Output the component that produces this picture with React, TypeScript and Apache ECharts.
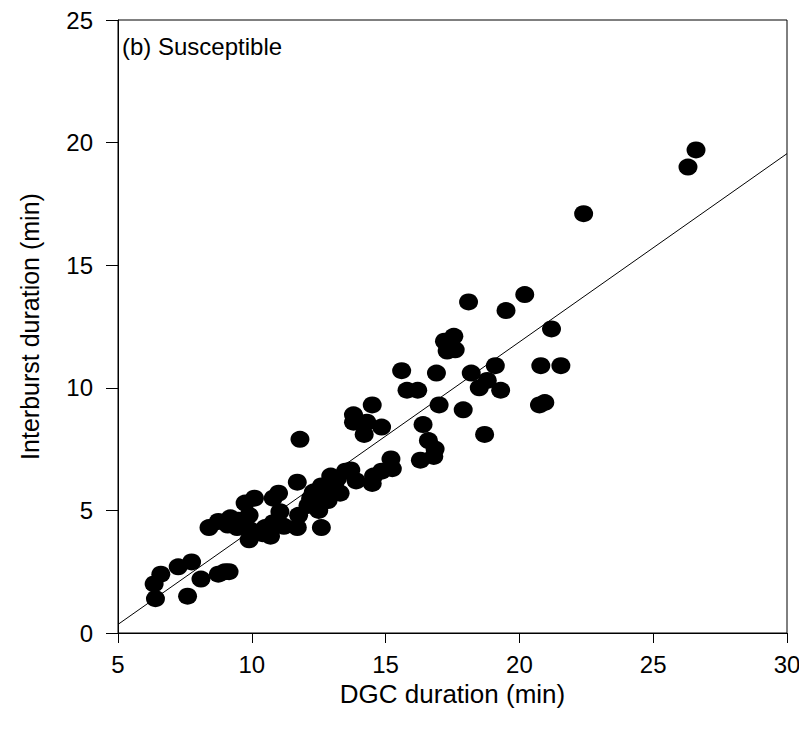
import React, { useEffect, useRef } from "react";
import * as echarts from "echarts";

// DGC duration (min) for each observation
const dgcDuration: number[] = [
  6.4, 6.35, 6.6, 7.25, 7.6, 7.75, 8.1, 8.75, 9.0, 9.15,
  8.4, 8.75, 9.2, 9.1, 9.45, 9.7, 9.75, 10.1, 9.9, 9.95,
  9.9, 10.4, 10.7, 10.8, 11.05, 10.8, 11.0, 11.2, 11.7, 11.75,
  11.7, 11.8, 12.3, 12.4, 12.5, 12.6, 12.7, 12.9, 12.95, 13.1,
  13.3, 12.85, 13.5, 13.7, 13.9, 13.8, 13.8, 14.2, 14.3, 14.5,
  14.5, 14.55, 14.85, 14.85, 15.25, 15.2, 15.6, 15.8, 16.2, 16.3,
  16.4, 16.6, 16.85, 16.8, 16.9, 17.0, 17.2, 17.3, 17.55, 17.6,
  17.9, 18.1, 18.2, 18.5, 18.7, 18.8, 19.1, 19.3, 19.5, 20.2,
  20.8, 20.75, 20.95, 21.2, 21.55, 22.4, 26.3, 26.6,
  12.1, 12.6, 13.2, 10.5, 9.5, 12.2,
];

// Interburst duration (min) for each observation
const interburstDuration: number[] = [
  1.4, 2.0, 2.4, 2.7, 1.5, 2.9, 2.2, 2.4, 2.5, 2.5,
  4.3, 4.55, 4.7, 4.4, 4.3, 4.5, 5.3, 5.5, 3.8, 4.2,
  4.8, 4.05, 3.95, 4.5, 4.95, 5.5, 5.7, 4.35, 4.3, 4.8,
  6.15, 7.9, 5.75, 5.4, 5.0, 4.3, 5.6, 5.9, 6.4, 6.1,
  5.7, 5.4, 6.6, 6.65, 6.2, 8.9, 8.6, 8.1, 8.6, 9.3,
  6.1, 6.4, 8.4, 6.6, 6.7, 7.1, 10.7, 9.9, 9.9, 7.05,
  8.5, 7.85, 7.5, 7.2, 10.6, 9.3, 11.9, 11.5, 12.1, 11.55,
  9.1, 13.5, 10.6, 10.0, 8.1, 10.3, 10.9, 9.9, 13.15, 13.8,
  10.9, 9.3, 9.4, 12.4, 10.9, 17.1, 19.0, 19.7,
  5.2, 6.0, 6.3, 4.3, 4.6, 5.5,
];

// Fitted regression line endpoints
const fitX: number[] = [5, 30];
const fitY: number[] = [0.35, 19.55];

const xTicks = { min: 5, max: 30, interval: 5 };
const yTicks = { min: 0, max: 25, interval: 5 };

const FONT = "'Liberation Sans', Arial, sans-serif";

export default function App() {
  const ref = useRef<HTMLDivElement>(null);

  useEffect(() => {
    if (!ref.current) return;
    const chart = echarts.init(ref.current, undefined, { renderer: "svg" });
    const points = dgcDuration.map((x, i) => [x, interburstDuration[i]]);
    const fit = fitX.map((x, i) => [x, fitY[i]]);
    chart.setOption({
      animation: false,
      backgroundColor: "#fff",
      textStyle: { fontFamily: FONT },
      grid: {
        left: 110,
        right: 12,
        top: 12,
        bottom: 99,
        show: true,
        borderColor: "#000",
        borderWidth: 1,
        backgroundColor: "transparent",
        containLabel: false,
        outerBoundsMode: "none",
      },
      graphic: [
        {
          type: "text",
          left: 114,
          top: 26,
          style: {
            text: "(b) Susceptible",
            fontSize: 24,
            fontFamily: FONT,
            fill: "#000",
          },
        },
      ],
      xAxis: {
        type: "value",
        min: xTicks.min,
        max: xTicks.max,
        interval: xTicks.interval,
        name: "DGC duration (min)",
        nameLocation: "middle",
        nameGap: 46,
        nameTextStyle: { fontSize: 26, color: "#000", fontFamily: FONT },
        axisLine: { show: true, onZero: false, lineStyle: { color: "#000", width: 1 } },
        axisTick: { show: true, inside: false, length: 10, lineStyle: { color: "#000" } },
        axisLabel: { fontSize: 24, color: "#000", margin: 19, fontFamily: FONT },
        splitLine: { show: false },
      },
      yAxis: {
        type: "value",
        min: yTicks.min,
        max: yTicks.max,
        interval: yTicks.interval,
        name: "Interburst duration (min)",
        nameLocation: "middle",
        nameGap: 76,
        nameRotate: 90,
        nameTextStyle: { fontSize: 25, color: "#000", fontFamily: FONT },
        axisLine: { show: true, onZero: false, lineStyle: { color: "#000", width: 1 } },
        axisTick: { show: true, inside: false, length: 12, lineStyle: { color: "#000" } },
        axisLabel: { fontSize: 24, color: "#000", margin: 25, fontFamily: FONT },
        splitLine: { show: false },
      },
      series: [
        {
          type: "line",
          data: fit,
          showSymbol: false,
          symbol: "none",
          lineStyle: { color: "#000", width: 1 },
          z: 1,
          silent: true,
        },
        {
          type: "scatter",
          data: points,
          symbol: "circle",
          symbolSize: [19, 17],
          itemStyle: { color: "#000", opacity: 1 },
          z: 2,
        },
      ],
    });
    return () => chart.dispose();
  }, []);

  return <div ref={ref} style={{ width: 791, height: 724 }} />;
}
